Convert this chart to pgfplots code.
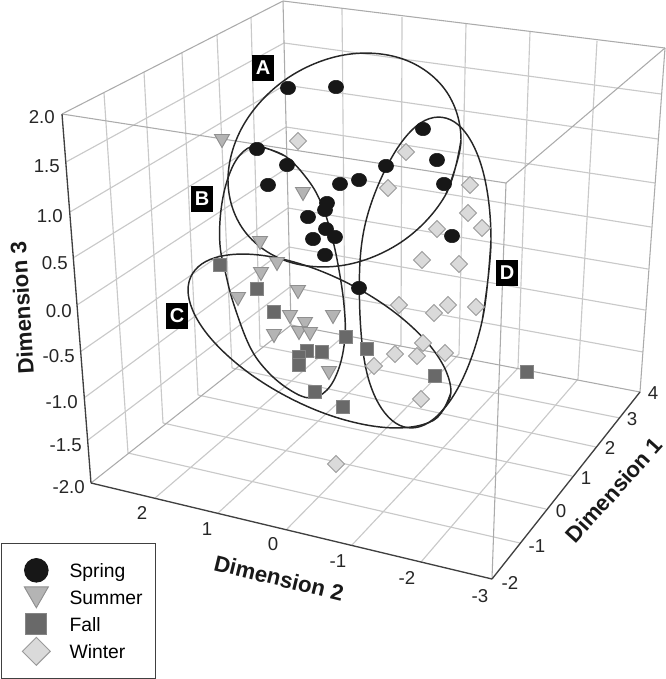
\documentclass[border=0pt]{standalone}
\usepackage{pgfplots}
\pgfplotsset{compat=1.18}
\usepackage{fontspec}
\setmainfont{Liberation Sans}
\definecolor{gridc}{HTML}{C9C9C9}
\definecolor{edgec}{HTML}{ABABAB}
\definecolor{axisc}{HTML}{404040}
\definecolor{sprc}{HTML}{171717}
\definecolor{sumf}{HTML}{B4B4B4}
\definecolor{sume}{HTML}{8F8F8F}
\definecolor{fallf}{HTML}{696969}
\definecolor{falle}{HTML}{858585}
\definecolor{winf}{HTML}{DADADA}
\definecolor{wine}{HTML}{9A9A9A}
\pgfdeclareplotmark{invtri}{%
  \pgfpathmoveto{\pgfqpoint{-\pgfplotmarksize}{0.87\pgfplotmarksize}}%
  \pgfpathlineto{\pgfqpoint{\pgfplotmarksize}{0.87\pgfplotmarksize}}%
  \pgfpathlineto{\pgfqpoint{0pt}{-0.87\pgfplotmarksize}}%
  \pgfpathclose\pgfusepathqfillstroke}
\pgfplotsset{limg/.style={legend image code/.code={%
  \begin{pgfinterruptboundingbox}%
  \draw[only marks,mark repeat=2,mark phase=2,##1] plot coordinates {(7pt,0cm)(14.11pt+7pt,0cm)(28.45pt+7pt,0cm)};%
  \end{pgfinterruptboundingbox}%
  \path[draw=none,fill=none] (0cm,-1pt) rectangle (41pt,1pt);}},
  reg/.style={smooth,tension=.62,color=black!85,line width=1.1pt,forget plot}}
\newcommand{\gl}[4]{\addplot[color=gridc,line width=0.85pt,forget plot] coordinates {(#1,#2)(#3,#4)};}
\newcommand{\el}[4]{\addplot[color=edgec,line width=0.8pt,forget plot] coordinates {(#1,#2)(#3,#4)};}
\newcommand{\al}[4]{\addplot[color=axisc,line width=1pt,forget plot] coordinates {(#1,#2)(#3,#4)};}
\begin{document}
\begin{tikzpicture}[
  tl/.style={font=\fontsize{14}{16}\selectfont,color=black!85,inner sep=0pt},
  axt/.style={font=\fontsize{16.7}{20}\selectfont\bfseries,color=black!90,inner sep=0pt},
  bx/.style={font=\fontsize{15}{18}\selectfont\bfseries,text=white,fill=black,minimum width=17pt,minimum height=19.5pt,inner sep=0pt}]
\useasboundingbox (0,0) rectangle (499.5pt,509.25pt);
\begin{axis}[
  at={(0,0)},anchor=south west,
  scale only axis,width=499.5pt,height=509.25pt,
  xmin=0,xmax=666,ymin=0,ymax=679,y dir=reverse,
  hide axis,clip=false,
  legend style={at={(axis cs:1,543)},anchor=north west,draw=axisc,line width=0.8pt,
    fill=white,font=\fontsize{14.5}{16}\selectfont,
    inner xsep=5pt,inner ysep=12.6pt,row sep=5.25pt,
    nodes={inner xsep=5pt,inner ysep=0pt,text height=13pt,text depth=2pt}},
  legend cell align=left,
]
% back-left wall horizontals
\gl{66}{162}{284}{43}\gl{70}{212}{285}{85}\gl{73}{258}{286}{127}\gl{77}{305}{287}{168}
\gl{80}{352}{288}{208}\gl{84}{398}{289}{247}\gl{88}{440}{290}{287}
% back-left wall verticals
\gl{104}{93}{128}{453}\gl{144}{72}{163}{423}\gl{182}{53}{198}{395}\gl{217}{35}{232}{368}\gl{251}{17}{260}{346}
% back-right wall horizontals
\gl{284}{43}{661}{94}\gl{285}{85}{658}{139}\gl{286}{127}{655}{183}\gl{287}{168}{651}{227}
\gl{288}{208}{648}{269}\gl{289}{247}{645}{310}\gl{290}{287}{643}{352}
% back-right wall verticals
\gl{342}{8}{345}{335}\gl{402}{17}{401}{345}\gl{466}{24}{459}{354}\gl{530}{32}{518}{368}\gl{597}{41}{578}{379}
% floor
\gl{155}{498}{345}{335}\gl{218}{513}{401}{345}\gl{287}{529}{459}{354}\gl{352}{545}{518}{368}\gl{421}{562}{578}{379}
\gl{128}{453}{520}{543}\gl{163}{423}{546}{509}\gl{198}{395}{572}{476}\gl{232}{368}{596}{447}\gl{260}{346}{620}{418}
% box edges
\el{62}{114}{283}{1}\el{283}{1}{665}{48}\el{62}{114}{506}{183}\el{506}{183}{665}{48}
\el{283}{1}{291}{325}\el{665}{48}{640}{392}\el{506}{183}{492}{579}
\el{291}{325}{91}{483}\el{291}{325}{640}{392}
\al{62}{114}{91}{483}\al{91}{483}{492}{579}\al{492}{579}{640}{392}
% data
\addplot[only marks,limg,mark=*,mark size=5.3pt,color=sprc,mark options={xscale=1.07,yscale=.95,draw=sprc,fill=sprc},
  legend image post style={mark size=8.8pt,mark options={xscale=1,yscale=1}}] coordinates {
 (288,88)(336,87)(257,149)(287,165)(268,185)(308,217)(327,203)(325,210)(326,229)(335,237)(313,239)(325,255)
 (340,184)(359,180)(386,166)(423,129)(437,160)(444,184)(452,236)(359,288)};
\addlegendentry{Spring}
\addplot[only marks,limg,mark=invtri,mark size=5.6pt,mark options={draw=sume,fill=sumf,line width=.7pt},
  legend image post style={mark size=9pt}] coordinates {
 (222,141)(303,194)(260,243)(277,264)(261,274)(238,299)(298,292)(290,317)(305,324)(299,333)(310,334)(274,336)(333,317)(329,373)};
\addlegendentry{Summer}
\addplot[only marks,limg,mark=square*,mark size=4.9pt,mark options={draw=falle,fill=fallf,line width=.7pt},
  legend image post style={mark size=7.8pt}] coordinates {
 (220,265)(257,289)(274,312)(346,337)(367,349)(307,351)(322,352)(299,357)(299,365)(315,392)(343,407)(435,376)(527,372)};
\addlegendentry{Fall}
\addplot[only marks,limg,mark=square*,mark size=4.5pt,mark options={rotate=45,draw=wine,fill=winf,line width=.7pt},
  legend image post style={mark size=7.4pt}] coordinates {
 (298,141)(406,152)(388,188)(470,185)(468,213)(482,228)(437,229)(422,260)(459,264)(399,305)(434,313)(448,305)(476,307)
 (423,343)(395,354)(417,356)(445,353)(374,366)(421,399)(336,464)};
\addlegendentry{Winter}
% outlined regions
\addplot[reg] coordinates {(461,140)(445.4,195.2)(402.8,241)(344.5,265.1)(286.3,261)(243.6,229.9)(228,180)(243.6,124.8)(286.3,79)(344.5,54.9)(402.8,59)(445.4,90.1)(461,140)(445.4,195.2)};
\addplot[reg] coordinates {(257,146)(285,156)(308,180)(322,205)(332,237)(339,270)(344,305)(345,337)(339,368)(327,390)(310,398)(290,390)(268,372)(250,347)(234,305)(226,275)(220,245)(221,210)(228,178)(240,155)(257,146)(285,156)};
\addplot[reg] coordinates {(451,392)(433.4,420.4)(385.3,427.5)(319.5,411.5)(253.8,376.5)(205.6,332)(188,290)(205.6,261.6)(253.8,254.5)(319.5,270.5)(385.3,305.5)(433.4,350)(451,392)(433.4,420.4)};
\addplot[reg] coordinates {(491,240.2)(482.2,320.6)(458,388)(425,424.6)(392,420.4)(367.8,376.5)(359.5,300)(365,225)(392,157)(425,120.4)(458,124.6)(482.2,168.5)(491,240.2)(482.2,320.6)};
% tick labels
\node[tl,anchor=east] at (axis cs:55,117) {2.0};
\node[tl,anchor=east] at (axis cs:60,166) {1.5};
\node[tl,anchor=east] at (axis cs:63,216) {1.0};
\node[tl,anchor=east] at (axis cs:68,263) {0.5};
\node[tl,anchor=east] at (axis cs:72,311) {0.0};
\node[tl,anchor=east] at (axis cs:75,356) {-0.5};
\node[tl,anchor=east] at (axis cs:78,402) {-1.0};
\node[tl,anchor=east] at (axis cs:82,445) {-1.5};
\node[tl,anchor=east] at (axis cs:85,487) {-2.0};
\node[tl] at (axis cs:142,513) {2};
\node[tl] at (axis cs:207,529) {1};
\node[tl] at (axis cs:273,544) {0};
\node[tl] at (axis cs:338,561) {-1};
\node[tl] at (axis cs:407,578) {-2};
\node[tl] at (axis cs:480,596) {-3};
\node[tl] at (axis cs:510,583) {-2};
\node[tl] at (axis cs:537,546) {-1};
\node[tl] at (axis cs:561,511) {0};
\node[tl] at (axis cs:586,478) {1};
\node[tl] at (axis cs:610,448) {2};
\node[tl] at (axis cs:632,419) {3};
\node[tl] at (axis cs:653,393) {4};
\node[axt,rotate=93.5] at (axis cs:22,308) {Dimension 3};
\node[axt,rotate=-13.7] at (axis cs:279,578) {Dimension 2};
\node[axt,rotate=48] at (axis cs:614,490) {Dimension 1};
\node[bx] at (axis cs:263,68) {A};
\node[bx] at (axis cs:202,199) {B};
\node[bx] at (axis cs:177,316) {C};
\node[bx] at (axis cs:507,273) {D};
\end{axis}
\end{tikzpicture}
\end{document}
